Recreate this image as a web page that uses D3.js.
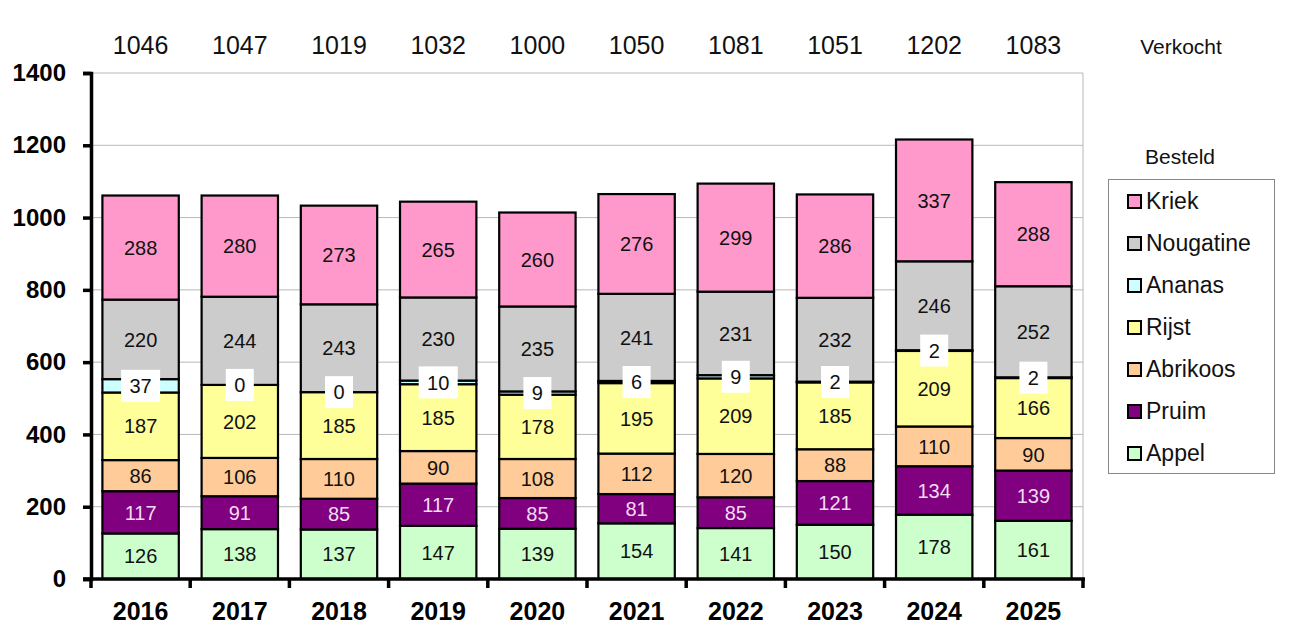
<!DOCTYPE html>
<html>
<head>
<meta charset="utf-8">
<script src="https://cdn.jsdelivr.net/npm/d3@7"></script>
<style>
  body { margin: 0; background: #fff; }
  svg { display: block; font-family: "Liberation Sans", Arial, sans-serif; }
</style>
</head>
<body>
<svg id="chart" width="1294" height="624"></svg>
<script>
  const years = ['2016', '2017', '2018', '2019', '2020', '2021', '2022', '2023', '2024', '2025'];
  const verkocht = [1046, 1047, 1019, 1032, 1000, 1050, 1081, 1051, 1202, 1083];
  // stack order bottom -> top
  const series = ['Appel', 'Pruim', 'Abrikoos', 'Rijst', 'Ananas', 'Nougatine', 'Kriek'];
  const appel = [126, 138, 137, 147, 139, 154, 141, 150, 178, 161];
  const pruim = [117, 91, 85, 117, 85, 81, 85, 121, 134, 139];
  const abrikoos = [86, 106, 110, 90, 108, 112, 120, 88, 110, 90];
  const rijst = [187, 202, 185, 185, 178, 195, 209, 185, 209, 166];
  const ananas = [37, 0, 0, 10, 9, 6, 9, 2, 2, 2];
  const nougatine = [220, 244, 243, 230, 235, 241, 231, 232, 246, 252];
  const kriek = [288, 280, 273, 265, 260, 276, 299, 286, 337, 288];
  const yTicks = [0, 200, 400, 600, 800, 1000, 1200, 1400];

  const colors = {
    Appel: '#ccffcc', Pruim: '#800080', Abrikoos: '#ffcc99', Rijst: '#ffff99',
    Ananas: '#ccffff', Nougatine: '#cccccc', Kriek: '#ff99cc'
  };

  const rows = years.map((yr, i) => ({
    year: yr, Appel: appel[i], Pruim: pruim[i], Abrikoos: abrikoos[i], Rijst: rijst[i],
    Ananas: ananas[i], Nougatine: nougatine[i], Kriek: kriek[i]
  }));

  const svg = d3.select('#chart');
  const plotLeft = 91, plotRight = 1083, plotTop = 73, plotBottom = 579;

  const x = d3.scaleBand().domain(years).range([plotLeft, plotRight]).paddingInner(0.23).paddingOuter(0.115);
  const xCat = d3.scaleBand().domain(years).range([plotLeft, plotRight]);
  const y = d3.scaleLinear().domain([0, 1400]).range([plotBottom, plotTop]);

  // gridlines
  svg.append('g').selectAll('line').data(yTicks.filter(d => d > 0)).join('line')
    .attr('x1', plotLeft).attr('x2', plotRight)
    .attr('y1', d => y(d)).attr('y2', d => y(d))
    .attr('stroke', '#b8b8b8').attr('stroke-width', 1);
  svg.append('line').attr('x1', plotRight).attr('x2', plotRight).attr('y1', plotTop).attr('y2', plotBottom)
    .attr('stroke', '#b8b8b8').attr('stroke-width', 1);

  const stacked = d3.stack().keys(series)(rows);

  const layer = svg.append('g').selectAll('g').data(stacked).join('g')
    .attr('fill', d => colors[d.key]);
  layer.selectAll('rect').data(d => d).join('rect')
    .attr('x', d => x(d.data.year))
    .attr('width', x.bandwidth())
    .attr('y', d => y(d[1]))
    .attr('height', d => y(d[0]) - y(d[1]))
    .attr('stroke', '#000').attr('stroke-width', 2.2);

  // segment labels
  stacked.forEach(s => {
    const g = svg.append('g');
    s.forEach(d => {
      const cx = x(d.data.year) + x.bandwidth() / 2;
      const cy = y((d[0] + d[1]) / 2);
      const v = d[1] - d[0];
      if (s.key === 'Ananas') {
        const w = String(v).length * 11 + 17;
        g.append('rect').attr('x', cx - w / 2).attr('y', cy - 16).attr('width', w).attr('height', 32)
          .attr('fill', '#fff');
      }
      g.append('text').attr('x', cx).attr('y', cy).attr('dy', '0.36em')
        .attr('text-anchor', 'middle').attr('font-size', 20)
        .attr('fill', s.key === 'Pruim' ? '#f2dcf2' : '#111')
        .text(v);
    });
  });

  // axes
  const yAxis = svg.append('g').attr('transform', `translate(${plotLeft},0)`)
    .call(d3.axisLeft(y).tickValues(yTicks).tickFormat(d3.format('d')).tickSize(8).tickPadding(17));
  yAxis.select('.domain').attr('stroke', '#000').attr('stroke-width', 3.5);
  yAxis.selectAll('.tick line').attr('stroke', '#000').attr('stroke-width', 3.5);
  yAxis.selectAll('text').attr('font-size', 24).attr('font-weight', 'bold').attr('fill', '#000')
    .attr('font-family', '"Liberation Sans", Arial, sans-serif');

  const xAxis = svg.append('g').attr('transform', `translate(0,${plotBottom})`);
  xAxis.append('line').attr('x1', plotLeft - 8).attr('x2', plotRight + 2).attr('y1', 0).attr('y2', 0)
    .attr('stroke', '#000').attr('stroke-width', 3.5);
  xAxis.selectAll('line.tk').data(years.concat(['end'])).join('line').attr('class', 'tk')
    .attr('x1', d => d === 'end' ? plotRight : xCat(d))
    .attr('x2', d => d === 'end' ? plotRight : xCat(d))
    .attr('y1', 0).attr('y2', 9)
    .attr('stroke', '#000').attr('stroke-width', 3.5);
  xAxis.selectAll('text').data(years).join('text')
    .attr('x', d => x(d) + x.bandwidth() / 2).attr('y', 41)
    .attr('text-anchor', 'middle').attr('font-size', 25).attr('font-weight', 'bold')
    .text(d => d);

  // verkocht row
  svg.append('g').selectAll('text').data(years).join('text')
    .attr('x', d => x(d) + x.bandwidth() / 2).attr('y', 54)
    .attr('text-anchor', 'middle').attr('font-size', 25).attr('fill', '#111')
    .text((d, i) => verkocht[i]);
  svg.append('text').attr('x', 1181).attr('y', 54).attr('text-anchor', 'middle')
    .attr('font-size', 21).attr('fill', '#111').text('Verkocht');

  // legend
  const lg = svg.append('g');
  lg.append('text').attr('x', 1180).attr('y', 164).attr('text-anchor', 'middle')
    .attr('font-size', 21).attr('fill', '#111').text('Besteld');
  lg.append('rect').attr('x', 1108.5).attr('y', 179.5).attr('width', 166).attr('height', 294)
    .attr('fill', '#fff').attr('stroke', '#888').attr('stroke-width', 1);
  const legendKeys = series.slice().reverse();
  const ly = d3.scalePoint().domain(legendKeys).range([201, 453]);
  const item = lg.selectAll('g.item').data(legendKeys).join('g').attr('class', 'item')
    .attr('transform', d => `translate(1128,${ly(d)})`);
  item.append('rect').attr('x', 0).attr('y', -6).attr('width', 13).attr('height', 13)
    .attr('fill', d => colors[d]).attr('stroke', '#000').attr('stroke-width', 2);
  item.append('text').attr('x', 18).attr('y', 0).attr('dy', '0.36em')
    .attr('font-size', 23).attr('fill', '#111').text(d => d);
</script>
</body>
</html>
